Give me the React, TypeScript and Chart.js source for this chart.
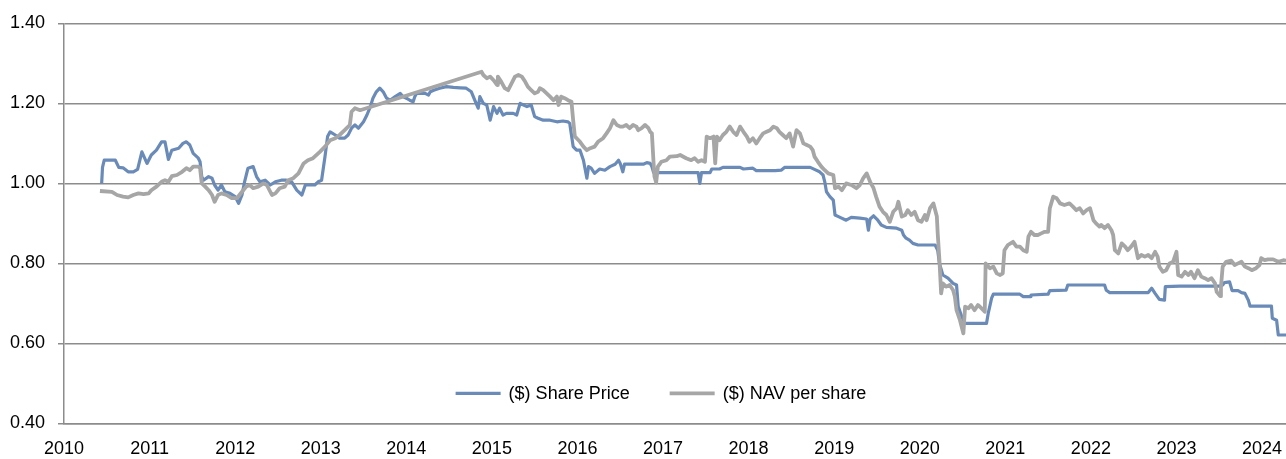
import { useEffect, useRef } from "react";
import { Chart, registerables } from "chart.js";

Chart.register(...registerables);

const yearTicks = [2010, 2011, 2012, 2013, 2014, 2015, 2016, 2017, 2018, 2019, 2020, 2021, 2022, 2023, 2024];
const valueTicks = [0.4, 0.6, 0.8, 1.0, 1.2, 1.4];
const seriesLabels = ["($) Share Price", "($) NAV per share"];
const seriesColors = ["#6a8bb8", "#a6a6a6"];

const priceYears = [
  2010.44, 2010.45, 2010.47, 2010.6, 2010.64, 2010.69, 2010.75, 2010.81, 2010.86, 2010.91, 2010.97,
  2011.02, 2011.08, 2011.14, 2011.18, 2011.22, 2011.26, 2011.34, 2011.39, 2011.43, 2011.47, 2011.51,
  2011.57, 2011.59, 2011.61, 2011.63, 2011.69, 2011.73, 2011.76, 2011.8, 2011.84, 2011.88, 2011.94,
  2012.0, 2012.04, 2012.08, 2012.11, 2012.15, 2012.21, 2012.25, 2012.29, 2012.35, 2012.41, 2012.47,
  2012.54, 2012.6, 2012.66, 2012.72, 2012.78, 2012.82, 2012.87, 2012.93, 2012.97, 2013.01, 2013.05,
  2013.08, 2013.11, 2013.17, 2013.22, 2013.28, 2013.32, 2013.36, 2013.4, 2013.44, 2013.5, 2013.54,
  2013.58, 2013.61, 2013.65, 2013.69, 2013.73, 2013.77, 2013.81, 2013.87, 2013.93, 2013.96, 2014.0,
  2014.04, 2014.08, 2014.1, 2014.12, 2014.22, 2014.26, 2014.28, 2014.32, 2014.39, 2014.47, 2014.55,
  2014.63, 2014.7, 2014.76, 2014.8, 2014.84, 2014.86, 2014.9, 2014.94, 2014.98, 2015.02, 2015.06,
  2015.09, 2015.13, 2015.17, 2015.25, 2015.29, 2015.33, 2015.37, 2015.41, 2015.46, 2015.5, 2015.54,
  2015.6, 2015.68, 2015.76, 2015.83, 2015.89, 2015.91, 2015.95, 2015.99, 2016.03, 2016.07, 2016.11,
  2016.13, 2016.16, 2016.2, 2016.26, 2016.32, 2016.38, 2016.44, 2016.48, 2016.5, 2016.53, 2016.55,
  2016.77, 2016.81, 2016.85, 2016.87, 2016.89, 2017.41, 2017.43, 2017.45, 2017.55, 2017.57, 2017.66,
  2017.7, 2017.9, 2017.94, 2018.05, 2018.09, 2018.31, 2018.38, 2018.42, 2018.72, 2018.77, 2018.83,
  2018.87, 2018.89, 2018.91, 2018.95, 2018.99, 2019.01, 2019.05, 2019.14, 2019.2, 2019.3, 2019.38,
  2019.4, 2019.42, 2019.46, 2019.51, 2019.55, 2019.61, 2019.73, 2019.79, 2019.81, 2019.84, 2019.88,
  2019.92, 2019.98, 2020.18, 2020.21, 2020.23, 2020.27, 2020.33, 2020.39, 2020.43, 2020.45, 2020.49,
  2020.53, 2020.78, 2020.8, 2020.84, 2020.86, 2021.17, 2021.21, 2021.29, 2021.3, 2021.5, 2021.52,
  2021.71, 2021.73, 2022.16, 2022.18, 2022.22, 2022.67, 2022.71, 2022.75, 2022.8, 2022.86, 2022.87,
  2023.04, 2023.5, 2023.54, 2023.56, 2023.62, 2023.65, 2023.72, 2023.76, 2023.8, 2023.84, 2023.86,
  2024.11, 2024.12, 2024.17, 2024.19, 2024.28,
];
const priceValues = [
  1.0, 1.04, 1.058, 1.058, 1.04, 1.039, 1.029, 1.029, 1.035, 1.079, 1.05,
  1.071, 1.083, 1.104, 1.104, 1.06, 1.083, 1.088, 1.1, 1.104, 1.096, 1.075,
  1.063, 1.054, 1.017, 1.008, 1.017, 1.013, 0.996, 0.983, 0.996, 0.979, 0.975,
  0.967, 0.95, 0.971, 1.004, 1.038, 1.042, 1.017, 1.004, 1.008, 0.996, 1.004,
  1.008, 1.008, 1.004, 0.983, 0.971, 0.996, 0.996, 0.996, 1.004, 1.008, 1.067,
  1.117, 1.129, 1.121, 1.113, 1.113, 1.121, 1.138, 1.146, 1.138, 1.154, 1.171,
  1.192, 1.213, 1.229, 1.238, 1.229, 1.213, 1.208, 1.217, 1.225, 1.217, 1.213,
  1.208, 1.204, 1.217, 1.225, 1.225, 1.221, 1.229, 1.233, 1.238, 1.242, 1.24,
  1.239, 1.238, 1.229, 1.208, 1.188, 1.217, 1.2, 1.196, 1.158, 1.192, 1.175,
  1.188, 1.171, 1.175, 1.175, 1.171, 1.2, 1.196, 1.192, 1.196, 1.167, 1.163,
  1.158, 1.158, 1.154, 1.156, 1.154, 1.15, 1.092, 1.083, 1.083, 1.058, 1.013,
  1.042, 1.038, 1.025, 1.036, 1.033, 1.042, 1.048, 1.058, 1.05, 1.029, 1.048,
  1.048, 1.052, 1.05, 1.042, 1.027, 1.027, 1.0, 1.027, 1.027, 1.036, 1.036,
  1.04, 1.04, 1.036, 1.038, 1.032, 1.032, 1.033, 1.04, 1.04, 1.035, 1.029,
  1.021, 1.004, 0.979, 0.967, 0.958, 0.921, 0.917, 0.908, 0.915, 0.913, 0.911,
  0.883, 0.911, 0.919, 0.908, 0.896, 0.89, 0.888, 0.883, 0.871, 0.863, 0.858,
  0.85, 0.846, 0.846, 0.833, 0.8, 0.771, 0.763, 0.75, 0.746, 0.692, 0.667,
  0.65, 0.65, 0.675, 0.713, 0.723, 0.723, 0.717, 0.717, 0.721, 0.723, 0.732,
  0.733, 0.746, 0.746, 0.733, 0.727, 0.727, 0.738, 0.725, 0.71, 0.708, 0.742,
  0.743, 0.743, 0.746, 0.752, 0.754, 0.732, 0.732, 0.727, 0.725, 0.708, 0.693,
  0.693, 0.663, 0.658, 0.621, 0.621,
];

const navYears = [
  2010.42, 2010.56, 2010.62, 2010.69, 2010.75, 2010.81, 2010.87, 2010.93, 2010.99, 2011.02, 2011.08,
  2011.14, 2011.18, 2011.22, 2011.26, 2011.32, 2011.38, 2011.43, 2011.47, 2011.51, 2011.57, 2011.59,
  2011.61, 2011.65, 2011.69, 2011.73, 2011.76, 2011.8, 2011.84, 2011.9, 2011.96, 2012.02, 2012.08,
  2012.13, 2012.17, 2012.21, 2012.27, 2012.33, 2012.37, 2012.43, 2012.47, 2012.52, 2012.58, 2012.62,
  2012.68, 2012.74, 2012.8, 2012.85, 2012.91, 2012.99, 2013.05, 2013.11, 2013.17, 2013.22, 2013.28,
  2013.34, 2013.36, 2013.4, 2013.46, 2014.88, 2014.9, 2014.94, 2014.98, 2015.02, 2015.06, 2015.07,
  2015.11, 2015.15, 2015.19, 2015.23, 2015.27, 2015.31, 2015.35, 2015.39, 2015.42, 2015.46, 2015.5,
  2015.54, 2015.56, 2015.6, 2015.64, 2015.68, 2015.72, 2015.76, 2015.78, 2015.81, 2015.85, 2015.89,
  2015.93, 2015.95, 2015.97, 2015.99, 2016.03, 2016.07, 2016.11, 2016.15, 2016.2, 2016.24, 2016.3,
  2016.34, 2016.38, 2016.42, 2016.46, 2016.5, 2016.53, 2016.57, 2016.61, 2016.65, 2016.69, 2016.71,
  2016.75, 2016.79, 2016.83, 2016.85, 2016.87, 2016.89, 2016.9, 2016.92, 2016.94, 2016.98, 2017.04,
  2017.08, 2017.16, 2017.2, 2017.27, 2017.33, 2017.37, 2017.41, 2017.45, 2017.49, 2017.51, 2017.55,
  2017.59, 2017.61, 2017.63, 2017.66, 2017.7, 2017.74, 2017.78, 2017.82, 2017.86, 2017.9, 2017.94,
  2017.98, 2018.01, 2018.05, 2018.09, 2018.13, 2018.17, 2018.21, 2018.25, 2018.29, 2018.33, 2018.36,
  2018.4, 2018.44, 2018.48, 2018.52, 2018.56, 2018.6, 2018.64, 2018.68, 2018.72, 2018.75, 2018.77,
  2018.81, 2018.85, 2018.89, 2018.93, 2018.99, 2019.01, 2019.05, 2019.09, 2019.14, 2019.2, 2019.26,
  2019.3, 2019.34, 2019.38, 2019.42, 2019.46, 2019.49, 2019.53, 2019.57, 2019.61, 2019.65, 2019.69,
  2019.73, 2019.75, 2019.79, 2019.83, 2019.86, 2019.9, 2019.94, 2019.98, 2020.02, 2020.06, 2020.08,
  2020.12, 2020.16, 2020.2, 2020.21, 2020.23, 2020.25, 2020.27, 2020.31, 2020.35, 2020.39, 2020.41,
  2020.43, 2020.47, 2020.51, 2020.53, 2020.57, 2020.6, 2020.64, 2020.68, 2020.72, 2020.76, 2020.77,
  2020.82, 2020.86, 2020.9, 2020.94, 2020.97, 2020.99, 2021.03, 2021.09, 2021.13, 2021.17, 2021.21,
  2021.25, 2021.27, 2021.3, 2021.34, 2021.38, 2021.42, 2021.46, 2021.5, 2021.52, 2021.56, 2021.6,
  2021.64, 2021.69, 2021.75, 2021.79, 2021.83, 2021.87, 2021.91, 2021.95, 2021.99, 2022.03, 2022.06,
  2022.1, 2022.12, 2022.16, 2022.2, 2022.24, 2022.26, 2022.28, 2022.32, 2022.36, 2022.4, 2022.43,
  2022.47, 2022.51, 2022.55, 2022.59, 2022.63, 2022.67, 2022.71, 2022.75, 2022.78, 2022.8, 2022.84,
  2022.88, 2022.92, 2022.96, 2023.0, 2023.02, 2023.06, 2023.1, 2023.14, 2023.17, 2023.21, 2023.25,
  2023.29, 2023.33, 2023.37, 2023.41, 2023.45, 2023.47, 2023.51, 2023.52, 2023.54, 2023.58, 2023.64,
  2023.68, 2023.72, 2023.76, 2023.8, 2023.84, 2023.88, 2023.93, 2023.97, 2023.99, 2024.03, 2024.07,
  2024.13, 2024.19, 2024.25, 2024.28,
];
const navValues = [
  0.981, 0.979, 0.971, 0.967, 0.965, 0.971, 0.975, 0.973, 0.975, 0.983, 0.992,
  1.004, 1.008, 1.004, 1.018, 1.021, 1.029, 1.038, 1.033, 1.042, 1.042, 1.038,
  1.0, 0.992, 0.983, 0.971, 0.954, 0.971, 0.975, 0.971, 0.963, 0.963, 0.979,
  0.992, 0.996, 0.988, 0.992, 1.0, 0.996, 0.971, 0.975, 0.988, 0.992, 1.008,
  1.013, 1.025, 1.05, 1.058, 1.063, 1.079, 1.092, 1.108, 1.113, 1.121, 1.133,
  1.146, 1.179, 1.188, 1.183, 1.279, 1.271, 1.263, 1.267, 1.258, 1.246, 1.267,
  1.254, 1.238, 1.233, 1.25, 1.267, 1.271, 1.267, 1.254, 1.242, 1.233, 1.225,
  1.229, 1.238, 1.233, 1.225, 1.217, 1.208, 1.217, 1.196, 1.217, 1.213, 1.208,
  1.204, 1.158, 1.117, 1.113, 1.104, 1.092, 1.083, 1.088, 1.092, 1.104, 1.113,
  1.125, 1.138, 1.158, 1.146, 1.142, 1.142, 1.146, 1.138, 1.146, 1.142, 1.133,
  1.138, 1.146, 1.138, 1.129, 1.125, 1.05, 1.017, 1.002, 1.042, 1.054, 1.058,
  1.067, 1.068, 1.071, 1.063, 1.058, 1.063, 1.054, 1.058, 1.054, 1.117, 1.113,
  1.117, 1.05, 1.117, 1.108, 1.121, 1.129, 1.142, 1.129, 1.121, 1.142, 1.129,
  1.117, 1.104, 1.113, 1.1, 1.113, 1.125, 1.129, 1.133, 1.142, 1.138, 1.129,
  1.121, 1.113, 1.125, 1.092, 1.133, 1.125, 1.1, 1.096, 1.092, 1.083, 1.067,
  1.054, 1.042, 1.033, 1.025, 1.021, 0.988, 0.992, 0.983, 1.0, 0.996, 0.988,
  0.996, 1.013, 1.025, 1.004, 0.988, 0.967, 0.942, 0.929, 0.921, 0.904, 0.929,
  0.938, 0.954, 0.917, 0.921, 0.933, 0.921, 0.929, 0.908, 0.904, 0.921, 0.908,
  0.938, 0.95, 0.917, 0.875, 0.808, 0.725, 0.75, 0.742, 0.746, 0.733, 0.717,
  0.683, 0.658, 0.625, 0.692, 0.688, 0.696, 0.683, 0.696, 0.688, 0.679, 0.8,
  0.788, 0.792, 0.775, 0.771, 0.775, 0.833, 0.846, 0.854, 0.842, 0.842, 0.833,
  0.829, 0.867, 0.879, 0.871, 0.871, 0.875, 0.879, 0.879, 0.938, 0.967, 0.963,
  0.95, 0.946, 0.95, 0.942, 0.933, 0.938, 0.925, 0.933, 0.938, 0.908, 0.9,
  0.892, 0.896, 0.888, 0.896, 0.883, 0.871, 0.833, 0.825, 0.85, 0.842, 0.833,
  0.842, 0.854, 0.813, 0.821, 0.817, 0.821, 0.813, 0.829, 0.817, 0.792, 0.779,
  0.783, 0.8, 0.804, 0.829, 0.771, 0.767, 0.779, 0.771, 0.779, 0.763, 0.783,
  0.767, 0.763, 0.758, 0.763, 0.75, 0.729, 0.718, 0.742, 0.792, 0.804, 0.807,
  0.796, 0.8, 0.804, 0.792, 0.788, 0.783, 0.788, 0.796, 0.813, 0.808, 0.81,
  0.81, 0.804, 0.808, 0.807,
];

const FONT = "'Liberation Sans', Arial, sans-serif";
const GRID = "#8c8c8c";

const toPoints = (xs: number[], ys: number[]) => xs.map((x, i) => ({ x, y: ys[i] }));

const insideLegend = {
  id: "insideLegend",
  afterDraw(chart: any) {
    const { ctx, chartArea } = chart;
    ctx.save();
    ctx.font = `18px ${FONT}`;
    ctx.textBaseline = "middle";
    ctx.textAlign = "left";
    const sample = 45;
    const gapText = 8;
    const gapItem = 40;
    const items = chart.data.datasets.map((ds: any) => ({
      label: ds.label,
      color: ds.borderColor,
      width: ds.borderWidth,
      tw: ctx.measureText(ds.label).width,
    }));
    const total =
      items.reduce((s: number, it: any) => s + sample + gapText + it.tw, 0) + gapItem * (items.length - 1);
    let x = (chartArea.left + chartArea.right) / 2 - total / 2 - 14;
    const y = chartArea.bottom - 30;
    items.forEach((it: any) => {
      ctx.strokeStyle = it.color;
      ctx.lineWidth = it.width;
      ctx.lineCap = "butt";
      ctx.beginPath();
      ctx.moveTo(x, y);
      ctx.lineTo(x + sample, y);
      ctx.stroke();
      ctx.fillStyle = "#000";
      ctx.fillText(it.label, x + sample + gapText, y + 1);
      x += sample + gapText + it.tw + gapItem;
    });
    ctx.restore();
  },
};

export default function App() {
  const ref = useRef<HTMLCanvasElement>(null);
  useEffect(() => {
    if (!ref.current) return;
    const chart = new Chart(ref.current, {
      type: "line",
      data: {
        datasets: [
          {
            label: seriesLabels[0],
            data: toPoints(priceYears, priceValues),
            borderColor: seriesColors[0],
            backgroundColor: seriesColors[0],
            borderWidth: 3.2,
            pointRadius: 0,
            tension: 0,
            borderJoinStyle: "round",
            order: 1,
          },
          {
            label: seriesLabels[1],
            data: toPoints(navYears, navValues),
            borderColor: seriesColors[1],
            backgroundColor: seriesColors[1],
            borderWidth: 3.8,
            pointRadius: 0,
            tension: 0,
            borderJoinStyle: "round",
            order: 0,
          },
        ],
      },
      options: {
        animation: false,
        responsive: false,
        maintainAspectRatio: false,
        layout: { padding: { top: 23.4, right: 0, bottom: 0, left: 0 } },
        plugins: { legend: { display: false }, tooltip: { enabled: false } },
        scales: {
          x: {
            type: "linear",
            min: 2010,
            max: 2024.28,
            afterBuildTicks: (axis: any) => {
              axis.ticks = yearTicks.map((v) => ({ value: v }));
            },
            afterFit: (scale: any) => {
              scale.height = 35.6;
              scale.paddingLeft = 0;
              scale.paddingRight = 0;
            },
            grid: { display: false, drawTicks: false, tickLength: 0 },
            border: { display: true, color: GRID, width: 1.5 },
            ticks: {
              autoSkip: false,
              maxRotation: 0,
              padding: 15,
              color: "#000",
              font: { family: FONT, size: 18 },
              callback: (v: any) => String(v),
            },
          },
          y: {
            type: "linear",
            min: 0.4,
            max: 1.4,
            afterBuildTicks: (axis: any) => {
              axis.ticks = valueTicks.map((v) => ({ value: v }));
            },
            afterFit: (scale: any) => {
              scale.width = 64;
              scale.paddingTop = 0;
              scale.paddingBottom = 0;
            },
            grid: { color: GRID, lineWidth: 1.5, drawTicks: true, tickLength: 6, tickColor: GRID },
            border: { display: true, color: GRID, width: 1.5 },
            ticks: {
              padding: 13,
              color: "#000",
              font: { family: FONT, size: 18 },
              callback: (v: any) => Number(v).toFixed(2),
            },
          },
        },
      },
      plugins: [insideLegend],
    });
    return () => chart.destroy();
  }, []);
  return (
    <div style={{ position: "absolute", left: 0, top: 0, width: 1286, height: 459, background: "#fff" }}>
      <canvas ref={ref} width={1286} height={459} />
    </div>
  );
}
